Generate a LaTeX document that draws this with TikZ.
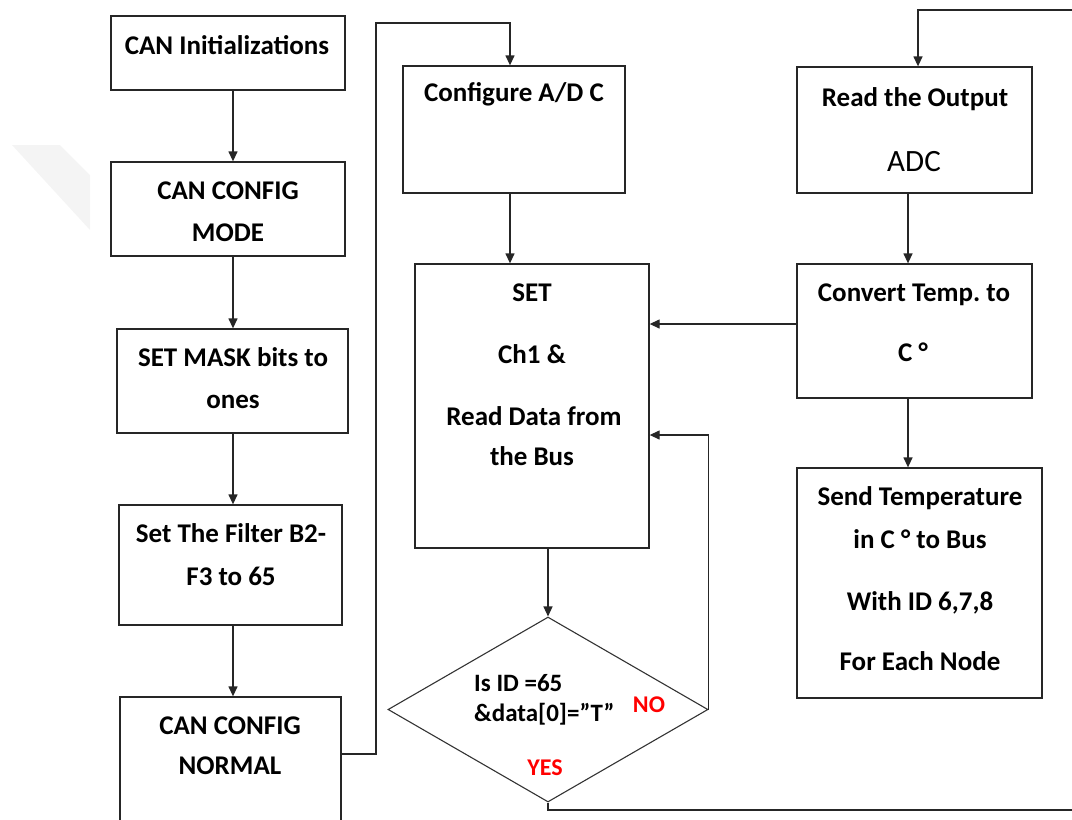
\documentclass[tikz,border=0pt]{standalone}
\usepackage{fontspec}
\setmainfont{Carlito}
\usetikzlibrary{arrows.meta,positioning,shapes.geometric}

\begin{document}
\begin{tikzpicture}[
x=1pt,
y=-1pt,
every node/.style={font=\fontsize{27}{32}\selectfont\bfseries},
stepbox/.style={rectangle,draw=black!85,line width=1.3pt,inner sep=0pt},
testbox/.style={diamond,draw=black!80,line width=1.1pt,inner sep=0pt},
txt/.style={inner sep=0pt,text height=17pt,text depth=0pt},
small/.style={txt,font=\fontsize{25}{30}\selectfont\bfseries,text height=16pt},
ans/.style={txt,text=red,font=\fontsize{24}{28}\selectfont\bfseries,text height=15.5pt},
arr/.style={-{Triangle[length=10pt,width=9pt]},draw=black!85,line width=1.3pt}
]
\useasboundingbox (0,0) rectangle (1072,820);
\fill[gray!9] (12,145) -- (60,145) -- (90,175) -- (90,230) -- cycle;

% left column: CAN set-up
\node[stepbox,minimum width=234pt,minimum height=74pt] (init) at (228,53) {};
\node[stepbox,minimum width=234pt,minimum height=94pt] (cfgmode) at (228,209) {};
\node[stepbox,minimum width=231pt,minimum height=104pt] (mask) at (232.5,381) {};
\node[stepbox,minimum width=223pt,minimum height=120pt] (filter) at (230.5,565) {};
\node[stepbox,minimum width=221pt,minimum height=150pt] (normal) at (230.5,772) {};

\node[txt] (initT) at (227,46) {CAN Initializations};
\node[txt] (modeT1) at (228,191) {CAN CONFIG};
\node[txt] (modeT2) at (228,233) {MODE};
\node[txt] (maskT1) at (233,358) {SET MASK bits to};
\node[txt] (maskT2) at (233,400) {ones};
\node[txt] (filterT1) at (231,534) {Set The Filter B2-};
\node[txt] (filterT2) at (231,577) {F3 to 65};
\node[txt] (normalT1) at (230,726) {CAN CONFIG};
\node[txt] (normalT2) at (230,766) {NORMAL};

% middle column: ADC, channel, receive test
\node[stepbox,minimum width=222pt,minimum height=127pt] (adcset) at (514,129.5) {};
\node[stepbox,minimum width=234pt,minimum height=284pt] (chset) at (532,406) {};
\node[testbox,minimum width=320pt,minimum height=185pt] (decide) at (548,709.5) {};

\node[txt] (adcsetT) at (514,93) {Configure A/D C};
\node[txt] (chsetT1) at (532,293) {SET};
\node[txt] (chsetT2) at (532,355) {Ch1 \&};
\node[txt] (chsetT3) at (534,417) {Read Data from};
\node[txt] (chsetT4) at (532,457) {the Bus};
\node[small,anchor=west] (decideT1) at (474,683) {Is ID =65};
\node[small,anchor=west] (decideT2) at (474,713) {\&data[0]=''T''};
\node[ans] (noT) at (649,705) {NO};
\node[ans] (yesT) at (545,768) {YES};

% right column: temperature
\node[stepbox,minimum width=235pt,minimum height=126pt] (readadc) at (914.5,130) {};
\node[stepbox,minimum width=235pt,minimum height=134pt] (convert) at (914.5,331) {};
\node[stepbox,minimum width=245pt,minimum height=230pt] (sendtemp) at (919.5,583) {};

\node[txt] (readT1) at (915,98) {Read the Output};
\node[txt,font=\fontsize{31}{36}\selectfont,text height=20pt] (readT2) at (914,161) {ADC};
\node[txt] (convertT1) at (914,293) {Convert Temp.\ to};
\node[txt] (convertT2) at (913,353) {C °};
\node[txt] (sendT1) at (920,497) {Send Temperature};
\node[txt] (sendT2) at (920,540) {in C ° to Bus};
\node[txt] (sendT3) at (920,602) {With ID 6,7,8};
\node[txt] (sendT4) at (920,662) {For Each Node};

% connectors
\coordinate (lcol) at (233,0);
\coordinate (mcol) at (510,0);
\coordinate (rcol) at (908,0);
\coordinate (normOut) at (0,754);
\coordinate (hop) at (376,23);
\coordinate (tempIn) at (0,324);
\coordinate (noIn) at (0,435);
\coordinate (loopR) at (1076,810);
\coordinate (loopT) at (918,10);

\draw[arr] (init.south -| lcol) -- (cfgmode.north -| lcol);
\draw[arr] (cfgmode.south -| lcol) -- (mask.north -| lcol);
\draw[arr] (mask.south -| lcol) -- (filter.north -| lcol);
\draw[arr] (filter.south -| lcol) -- (normal.north -| lcol);
\draw[arr] (normal.east |- normOut) -| (hop) -| (adcset.north -| mcol);
\draw[arr] (adcset.south -| mcol) -- (chset.north -| mcol);
\draw[arr] (chset.south -| decide.north) -- (decide.north);
\draw[arr] (decide.east) |- (chset.east |- noIn);
\draw[arr] (decide.south) |- (loopR) |- (loopT) -- (readadc.north -| loopT);
\draw[arr] (readadc.south -| rcol) -- (convert.north -| rcol);
\draw[arr] (convert.west |- tempIn) -- (chset.east |- tempIn);
\draw[arr] (convert.south -| rcol) -- (sendtemp.north -| rcol);
\end{tikzpicture}
\end{document}
